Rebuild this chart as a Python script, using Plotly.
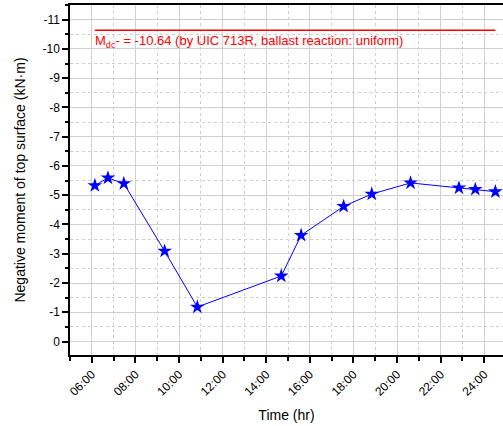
import plotly.graph_objects as go

# Data (time in hours, negative moment in kN·m)
times = [6.14, 6.74, 7.47, 9.34, 10.84, 14.69, 15.60, 17.55, 18.84, 20.62, 22.84, 23.59, 24.51]
moments = [-5.33, -5.59, -5.40, -3.09, -1.18, -2.24, -3.63, -4.62, -5.04, -5.42, -5.25, -5.20, -5.12]
limit_value = -10.64

x_tick_vals = [6, 8, 10, 12, 14, 16, 18, 20, 22, 24]
x_tick_text = ["06:00", "08:00", "10:00", "12:00", "14:00", "16:00", "18:00", "20:00", "22:00", "24:00"]
y_tick_vals = [-11, -10, -9, -8, -7, -6, -5, -4, -3, -2, -1, 0]
y_tick_text = ["-11", "-10", "-9", "-8", "-7", "-6", "-5", "-4", "-3", "-2", "-1", "0"]

FONT = "Arial"

fig = go.Figure()
fig.add_trace(go.Scatter(
    x=[times[0], times[-1]], y=[limit_value, limit_value],
    mode="lines", line=dict(color="#ff0000", width=1.5),
    hoverinfo="skip", showlegend=False,
))
fig.add_trace(go.Scatter(
    x=times, y=moments, mode="lines+markers",
    line=dict(color="#0000ff", width=1),
    marker=dict(symbol="star", size=11, color="#0000ff"),
    showlegend=False,
))

fig.add_annotation(
    x=times[0], y=limit_value, xref="x", yref="y",
    xanchor="left", yanchor="top", yshift=-1, xshift=-2,
    text="M<sub>dc</sub>- = -10.64 (by UIC 713R, ballast reaction: uniform)",
    showarrow=False, font=dict(family=FONT, size=13, color="#ff0000"),
)

fig.update_layout(
    width=503, height=426,
    margin=dict(l=70, r=0, t=5, b=71),
    paper_bgcolor="white", plot_bgcolor="white",
    font=dict(family=FONT, size=12, color="black"),
)
fig.update_xaxes(
    range=[5, 24.86],
    tickmode="array", tickvals=x_tick_vals, ticktext=x_tick_text,
    tickangle=-45, tickfont=dict(family=FONT, size=12),
    showline=True, linecolor="black", linewidth=1.5, mirror=True,
    ticks="outside", ticklen=6, tickcolor="black", tickwidth=1.5,
    showgrid=True, gridcolor="#d0d0d0", gridwidth=1,
    minor=dict(dtick=1, tick0=5, ticks="outside", ticklen=4, tickcolor="black",
               showgrid=True, gridcolor="#cfcfcf", griddash="dot", gridwidth=1),
    zeroline=False,
    title=dict(text="Time (hr)", font=dict(family=FONT, size=14), standoff=12),
)
fig.update_yaxes(
    range=[0.46, -11.5],
    tickmode="array", tickvals=y_tick_vals, ticktext=y_tick_text,
    tickfont=dict(family=FONT, size=12),
    showline=True, linecolor="black", linewidth=1.5,
    ticks="outside", ticklen=6, tickcolor="black", tickwidth=1.5,
    showgrid=True, gridcolor="#d0d0d0", gridwidth=1,
    minor=dict(dtick=1, tick0=-11.5, ticks="outside", ticklen=3, tickcolor="black",
               showgrid=True, gridcolor="#cfcfcf", griddash="dot", gridwidth=1),
    zeroline=False,
    title=dict(text="Negative moment of top surface (kN·m)", font=dict(family=FONT, size=14), standoff=14),
)

fig.write_html("out.html")
